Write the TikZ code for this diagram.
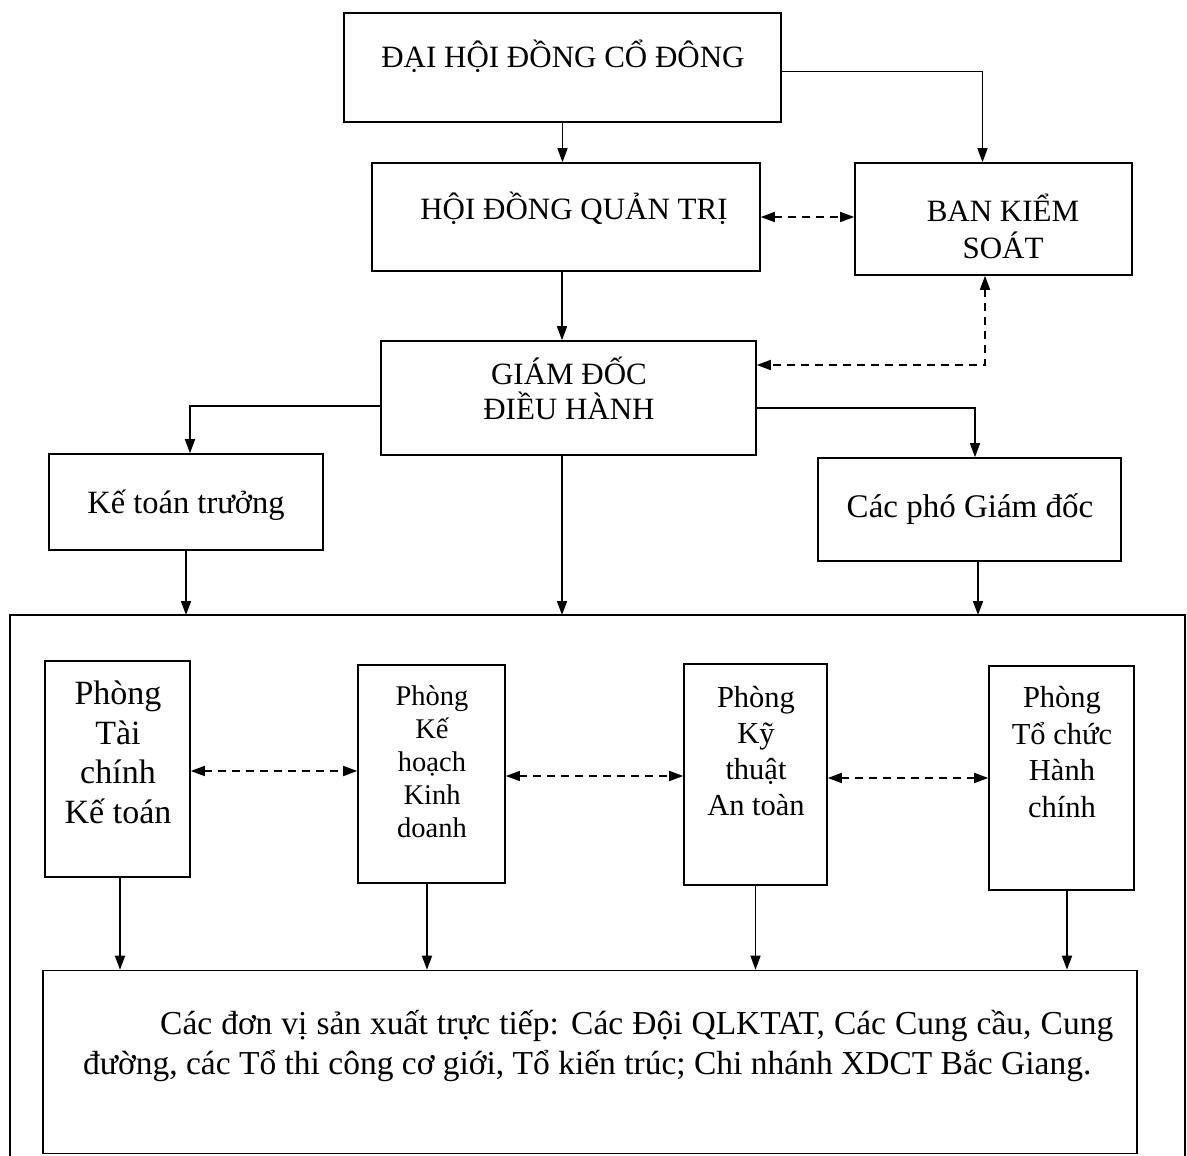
\documentclass[tikz,border=0pt]{standalone}
\usepackage{fontspec}
\setmainfont{Liberation Serif}
\usetikzlibrary{arrows.meta,calc}
\begin{document}
\begin{tikzpicture}[x=1pt,y=-1pt,
  box/.style={draw, line width=1.6pt, inner sep=0pt},
  txt/.style={anchor=base, align=center, inner sep=0pt, font=\fontsize{31}{37}\selectfont},
  arr/.style={line width=1.6pt, -{Triangle[length=14pt,width=10pt]}},
  darr/.style={line width=1.6pt, dash pattern=on 8pt off 6pt, {Triangle[length=14pt,width=10pt]}-{Triangle[length=14pt,width=10pt]}},
]
\useasboundingbox (0,0) rectangle (1187,1156);

% boxes
\node[box, minimum width=437pt, minimum height=109pt] (dh) at (562.5,67.5) {};
\node[box, minimum width=388pt, minimum height=108pt] (hd) at (566,217) {};
\node[box, minimum width=277pt, minimum height=112pt] (bks) at (993.5,219) {};
\node[box, minimum width=375pt, minimum height=114pt] (gd) at (568.5,398) {};
\node[box, minimum width=274pt, minimum height=96pt] (kt) at (186,502) {};
\node[box, minimum width=303pt, minimum height=103pt] (pg) at (969.5,509.5) {};
\node[box, minimum width=145pt, minimum height=216pt] (p1) at (117.5,769) {};
\node[box, minimum width=147pt, minimum height=218pt] (p2) at (431.5,774) {};
\node[box, minimum width=143pt, minimum height=221pt] (p3) at (755.5,774.5) {};
\node[box, minimum width=145pt, minimum height=224pt] (p4) at (1061.5,778) {};
\node[box, minimum width=1094pt, minimum height=183pt] (bot) at (590,1062) {};

% container
\coordinate (c1) at (10,1160);
\coordinate (c2) at (10,615);
\coordinate (c3) at (1185,615);
\coordinate (c4) at (1185,1160);
\draw[line width=1.6pt] (c1) -- (c2) -- (c3) -- (c4);

% texts (base anchor = baseline of last line)
\node[txt] (dhT) at (563,68) {ĐẠI HỘI ĐỒNG CỔ ĐÔNG};
\node[txt] (hdT) at (574,219) {HỘI ĐỒNG QUẢN TRỊ};
\node[txt] (bksT) at (1003,258) {BAN KIỂM\\SOÁT};
\node[txt, font=\fontsize{31}{35}\selectfont] (gdT) at (569,419) {GIÁM ĐỐC\\ĐIỀU HÀNH};
\node[txt, font=\fontsize{32.5}{38}\selectfont] (ktT) at (186,513) {Kế toán trưởng};
\node[txt, font=\fontsize{33}{38}\selectfont] (pgT) at (970,517) {Các phó Giám đốc};
\node[txt, font=\fontsize{34}{39.5}\selectfont] (p1T) at (118,823) {Phòng\\Tài\\chính\\Kế toán};
\node[txt, font=\fontsize{28.5}{33}\selectfont] (p2T) at (432,837) {Phòng\\Kế\\hoạch\\Kinh\\doanh};
\node[txt, font=\fontsize{30.5}{36}\selectfont] (p3T) at (756,815) {Phòng\\Kỹ\\thuật\\An toàn};
\node[txt, font=\fontsize{30.5}{36.5}\selectfont] (p4T) at (1062,817) {Phòng\\Tổ chức\\Hành\\chính};
\node[anchor=base west, inner sep=0pt, text width=1030pt, align=justify, font=\fontsize{33.5}{40}\selectfont] (botT) at (83,1034)
  {\hspace*{77pt}Các đơn vị sản xuất trực tiếp: Các Đội QLKTAT, Các Cung cầu, Cung\linebreak đường, các Tổ thi công cơ giới, Tổ kiến trúc; Chi nhánh XDCT Bắc Giang.};

% connectors
\coordinate (ctop) at (0,615);
\draw[arr] (dh.south) -- (dh.south |- hd.north);
\draw[arr] ($(dh.east)+(0,4)$) -| ($(bks.north)+(-11,0)$);
\draw[darr] (hd.east) -- (hd.east -| bks.west);
\draw[arr] ($(hd.south)+(-4,0)$) -- ($(hd.south |- gd.north)+(-4,0)$);
\draw[darr] ($(bks.south)+(-8.5,0)$) |- ($(gd.east)+(0,-33)$);
\draw[arr] ($(gd.west)+(0,8)$) -| ($(kt.north)+(4,0)$);
\draw[arr] ($(gd.east)+(0,10)$) -| ($(pg.north)+(5.5,0)$);
\draw[arr] (kt.south) -- (kt.south |- ctop);
\draw[arr] ($(gd.south)+(-6.5,0)$) -- ($(gd.south |- ctop)+(-6.5,0)$);
\draw[arr] ($(pg.south)+(8.5,0)$) -- ($(pg.south |- ctop)+(8.5,0)$);
\draw[darr] ($(p1.east)+(0,2)$) -- ($(p1.east -| p2.west)+(0,2)$);
\draw[darr] ($(p2.east)+(0,2)$) -- ($(p2.east -| p3.west)+(0,2)$);
\draw[darr] ($(p3.east)+(0,3.5)$) -- ($(p3.east -| p4.west)+(0,3.5)$);
\draw[arr] ($(p1.south)+(2.5,0)$) -- ($(p1.south |- bot.north)+(2.5,0)$);
\draw[arr] ($(p2.south)+(-4.5,0)$) -- ($(p2.south |- bot.north)+(-4.5,0)$);
\draw[arr] (p3.south) -- (p3.south |- bot.north);
\draw[arr] ($(p4.south)+(5.5,0)$) -- ($(p4.south |- bot.north)+(5.5,0)$);
\end{tikzpicture}
\end{document}
